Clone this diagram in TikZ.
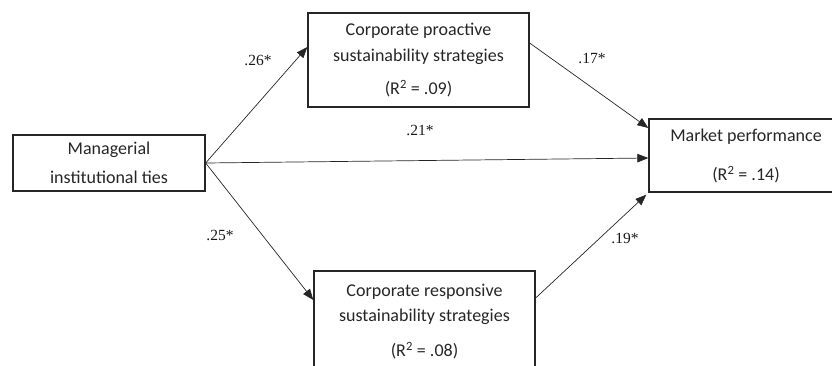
\documentclass[tikz,border=0pt]{standalone}
\usepackage{fontspec}
\setmainfont{Liberation Serif}
\newfontfamily\boxfont{Carlito}
\usetikzlibrary{arrows.meta}
\begin{document}
\begin{tikzpicture}[x=1pt,y=-1pt,
  box/.style={draw=black!85, line width=1.3pt, inner sep=0pt, fill=none},
  btext/.style={font=\boxfont\fontsize{18}{22}\selectfont, text=black!85, inner sep=0pt, anchor=center},
  coef/.style={font=\fontsize{15.5}{18}\selectfont, text=black!90, inner sep=0pt},
  arr/.style={draw=black!85, line width=0.7pt, -{Triangle[length=11pt,width=8.5pt]}}]
\useasboundingbox (0,0) rectangle (832,365);
% boxes
\node[box, minimum width=192pt, minimum height=56pt] (mit) at (109,163) {};
\node[box, minimum width=221pt, minimum height=94pt] (csp) at (418.5,60) {};
\node[box, minimum width=186pt, minimum height=73pt] (mp) at (742,155.5) {};
\node[box, minimum width=221pt, minimum height=100pt] (crs) at (424.5,321) {};
% box texts
\node[btext] (t1) at (109,150) {Managerial};
\node[btext] (t2) at (109,177) {institutional ties};
\node[btext] (t3) at (418.5,31) {Corporate proactive};
\node[btext] (t4) at (418.5,57) {sustainability strategies};
\node[btext] (t5) at (418.5,89) {(R\textsuperscript{2} = .09)};
\node[btext] (t6) at (746,137) {Market performance};
\node[btext] (t7) at (746,175) {(R\textsuperscript{2} = .14)};
\node[btext] (t8) at (424.5,292) {Corporate responsive};
\node[btext] (t9) at (424.5,317) {sustainability strategies};
\node[btext] (t10) at (424.5,351) {(R\textsuperscript{2} = .08)};
% arrows
\draw[arr] (mit.east) -- ([yshift=13pt]csp.west);
\draw[arr] ([yshift=17pt]csp.east) -- ([yshift=27.5pt]mp.west);
\draw[arr] (mit.east) -- ([yshift=-2.5pt]mp.west);
\draw[arr] (mit.east) -- ([yshift=21pt]crs.west);
\draw[arr] ([yshift=23pt]crs.east) -- ([xshift=-2pt,yshift=-2pt]mp.south west);
% coefficients
\node[coef] (c1) at (258,60) {.26*};
\node[coef] (c2) at (592,58) {.17*};
\node[coef] (c3) at (420,130) {.21*};
\node[coef] (c4) at (220,235) {.25*};
\node[coef] (c5) at (625,238) {.19*};
\end{tikzpicture}
\end{document}
